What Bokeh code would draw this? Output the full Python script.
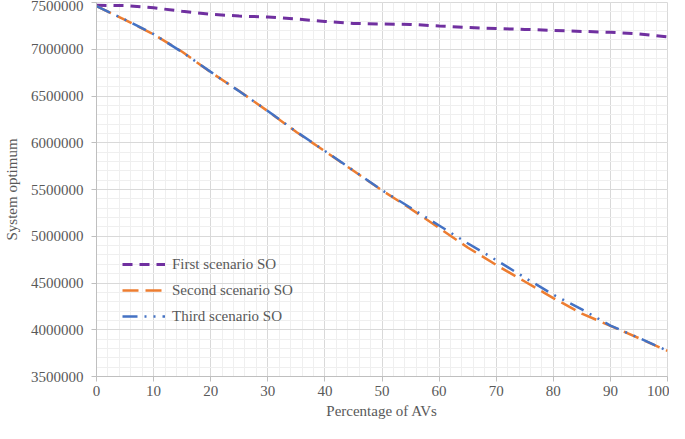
from bokeh.plotting import figure
from bokeh.models import SingleIntervalTicker, BasicTickFormatter, Range1d, Legend, LegendItem
from bokeh.embed import file_html
from bokeh.resources import INLINE

pct = [0, 5, 10, 15, 20, 25, 30, 35, 40, 45, 50, 55, 60, 65, 70, 75, 80, 85, 90, 95, 100]
first_so = [7470000, 7467000, 7443000, 7406000, 7374000, 7355000, 7345000, 7323000, 7298000, 7276000,
            7270000, 7266000, 7249000, 7233000, 7222000, 7212000, 7202000, 7191000, 7181000, 7164000, 7133000]
second_so = [7461000, 7314000, 7160000, 6973000, 6755000, 6553000, 6338000, 6115000, 5909000, 5700000,
             5490000, 5295000, 5089000, 4880000, 4693000, 4516000, 4339000, 4173000, 4042000, 3910000, 3775000]
third_so = [7461000, 7316000, 7162000, 6970000, 6758000, 6550000, 6340000, 6118000, 5912000, 5703000,
            5493000, 5305000, 5115000, 4925000, 4745000, 4558000, 4375000, 4218000, 4045000, 3912000, 3775000]

series_labels = ["First scenario SO", "Second scenario SO", "Third scenario SO"]
x_title = "Percentage of AVs"
y_title = "System optimum"

FONT = "Liberation Serif"
TXT = "#595959"

p = figure(width=669, height=423, output_backend="svg", toolbar_location=None,
           x_range=Range1d(0, 100), y_range=Range1d(3500000, 7500000),
           min_border_left=92, min_border_right=2, min_border_top=2, min_border_bottom=47)
p.background_fill_color = "white"
p.border_fill_color = "white"
p.outline_line_color = "#d9d9d9"

# axes
p.xaxis.ticker = SingleIntervalTicker(interval=10, num_minor_ticks=5)
p.yaxis.ticker = SingleIntervalTicker(interval=500000, num_minor_ticks=5)
p.yaxis.formatter = BasicTickFormatter(use_scientific=False)
for ax in (p.xaxis[0], p.yaxis[0]):
    ax.axis_line_color = "#bfbfbf"
    ax.major_tick_line_color = "#bfbfbf"
    ax.major_tick_out = 5
    ax.major_tick_in = 0
    ax.minor_tick_line_color = None
    ax.major_label_text_font = FONT
    ax.major_label_text_font_size = "15px"
    ax.major_label_text_color = TXT
    ax.axis_label_text_font = FONT
    ax.axis_label_text_font_size = "15px"
    ax.axis_label_text_color = TXT
    ax.axis_label_text_font_style = "normal"
p.xaxis.axis_label = x_title
p.yaxis.axis_label = y_title
p.xaxis.major_label_standoff = 4
p.xaxis.axis_label_standoff = 4
p.yaxis.major_label_standoff = 8
p.yaxis.axis_label_standoff = 8

# grids
for g in (p.xgrid[0], p.ygrid[0]):
    g.grid_line_color = "#d9d9d9"
    g.grid_line_width = 1
    g.minor_grid_line_color = "#efefef"
    g.minor_grid_line_width = 1

r1 = p.line(pct, first_so, line_color="#7030A0", line_width=3, line_dash="10 7")
r2 = p.line(pct, second_so, line_color="#ED7D31", line_width=2.5, line_dash="16 7")
r3 = p.line(pct, third_so, line_color="#4472C4", line_width=2.5, line_dash="15 7 2 7 2 7")

legend = Legend(items=[LegendItem(label=series_labels[0], renderers=[r1]),
                       LegendItem(label=series_labels[1], renderers=[r2]),
                       LegendItem(label=series_labels[2], renderers=[r3])],
                location=(26, 50), padding=0, margin=0, spacing=6,
                glyph_width=43, glyph_height=20, label_standoff=7,
                label_text_font=FONT, label_text_font_size="15px", label_text_color=TXT,
                background_fill_alpha=0, border_line_color=None)
p.add_layout(legend)

open("out.html", "w").write(file_html(p, INLINE))
